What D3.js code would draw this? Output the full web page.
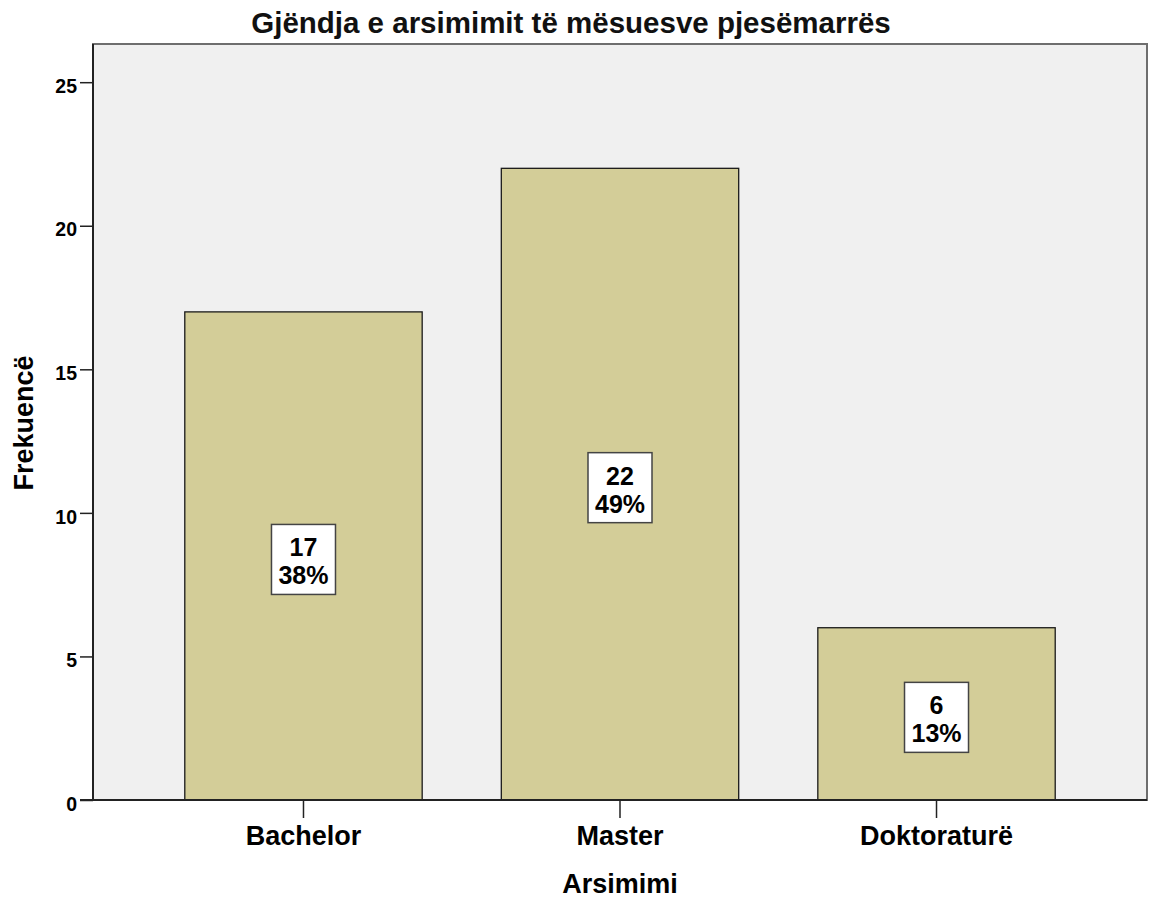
<!DOCTYPE html>
<html>
<head>
<meta charset="utf-8">
<script src="https://cdn.jsdelivr.net/npm/d3@7"></script>
<style>
  body { margin: 0; background: #fff; }
  text { font-family: "Liberation Sans", Arial, sans-serif; }
</style>
</head>
<body>
<div id="chart"></div>
<script>
var width = 1149,
    height = 899;

var categories = ["Bachelor", "Master", "Doktoraturë"];
var counts = [17, 22, 6];
var percents = ["38%", "49%", "13%"];
var yTicks = [0, 5, 10, 15, 20, 25];

var plotLeft = 93, plotRight = 1147, plotTop = 44, plotBottom = 800;

var svg = d3.select("#chart")
    .append("svg")
    .attr("width", width)
    .attr("height", height);

var x = d3.scaleBand()
    .domain(categories)
    .range([plotLeft, plotRight])
    .paddingInner(0.25)
    .paddingOuter(0.29);

var y = d3.scaleLinear()
    .domain([0, 26.33])
    .range([plotBottom, plotTop]);

// plot background
svg.append("rect")
    .attr("x", plotLeft)
    .attr("y", plotTop)
    .attr("width", plotRight - plotLeft)
    .attr("height", plotBottom - plotTop)
    .attr("fill", "#f0f0f0")
    .attr("stroke", "#6e6e6e")
    .attr("stroke-width", 2);

var data = categories.map(function(c, i) {
  return { cat: c, n: counts[i], pct: percents[i] };
});

svg.append("g")
    .selectAll("rect")
    .data(data)
    .enter().append("rect")
    .attr("x", function(d) { return x(d.cat); })
    .attr("y", function(d) { return y(d.n); })
    .attr("width", x.bandwidth())
    .attr("height", function(d) { return plotBottom - y(d.n); })
    .attr("fill", "#d3cd98")
    .attr("stroke", "#1a1a1a")
    .attr("stroke-width", 1.3);

// value boxes
var lab = svg.append("g")
    .selectAll("g")
    .data(data)
    .enter().append("g")
    .attr("transform", function(d) {
      return "translate(" + (x(d.cat) + x.bandwidth() / 2) + "," + ((y(d.n) + plotBottom) / 2 + 3.5) + ")";
    });
lab.append("rect")
    .attr("x", -32)
    .attr("y", -35)
    .attr("width", 64)
    .attr("height", 70)
    .attr("fill", "#fff")
    .attr("stroke", "#444")
    .attr("stroke-width", 1.5);
lab.append("text")
    .attr("text-anchor", "middle")
    .attr("y", -3)
    .attr("font-size", 25)
    .attr("font-weight", "bold")
    .text(function(d) { return d.n; });
lab.append("text")
    .attr("text-anchor", "middle")
    .attr("y", 25)
    .attr("font-size", 25)
    .attr("font-weight", "bold")
    .text(function(d) { return d.pct; });

// axes
var yAxis = svg.append("g")
    .attr("transform", "translate(" + plotLeft + ",0)")
    .call(d3.axisLeft(y).tickValues(yTicks).tickSize(13).tickPadding(3));
yAxis.select(".domain").remove();
yAxis.selectAll(".tick line").attr("stroke", "#222").attr("stroke-width", 1.5);
yAxis.selectAll(".tick text")
    .attr("font-size", 19.5)
    .attr("font-weight", "bold")
    .attr("fill", "#000")
    .attr("dy", "0.52em");

svg.append("line")
    .attr("x1", plotLeft).attr("x2", plotLeft)
    .attr("y1", plotTop).attr("y2", plotBottom)
    .attr("stroke", "#222").attr("stroke-width", 2);
svg.append("line")
    .attr("x1", plotLeft - 13).attr("x2", plotRight)
    .attr("y1", plotBottom).attr("y2", plotBottom)
    .attr("stroke", "#222").attr("stroke-width", 2);

var xAxis = svg.append("g")
    .attr("transform", "translate(0," + plotBottom + ")")
    .call(d3.axisBottom(x).tickSize(18).tickPadding(10));
xAxis.select(".domain").remove();
xAxis.selectAll(".tick line").attr("stroke", "#222").attr("stroke-width", 1.5);
xAxis.selectAll(".tick text")
    .attr("font-size", 27)
    .attr("font-weight", "bold")
    .attr("fill", "#000")
    .attr("dy", null)
    .attr("y", 45);

// titles
svg.append("text")
    .attr("x", 571)
    .attr("y", 33)
    .attr("text-anchor", "middle")
    .attr("font-size", 29.5)
    .attr("font-weight", "bold")
    .attr("fill", "#111")
    .text("Gjëndja e arsimimit të mësuesve pjesëmarrës");

svg.append("text")
    .attr("x", (plotLeft + plotRight) / 2)
    .attr("y", 893)
    .attr("text-anchor", "middle")
    .attr("font-size", 27)
    .attr("font-weight", "bold")
    .text("Arsimimi");

svg.append("text")
    .attr("transform", "translate(33,423) rotate(-90)")
    .attr("text-anchor", "middle")
    .attr("font-size", 27)
    .attr("font-weight", "bold")
    .text("Frekuencë");
</script>
</body>
</html>
